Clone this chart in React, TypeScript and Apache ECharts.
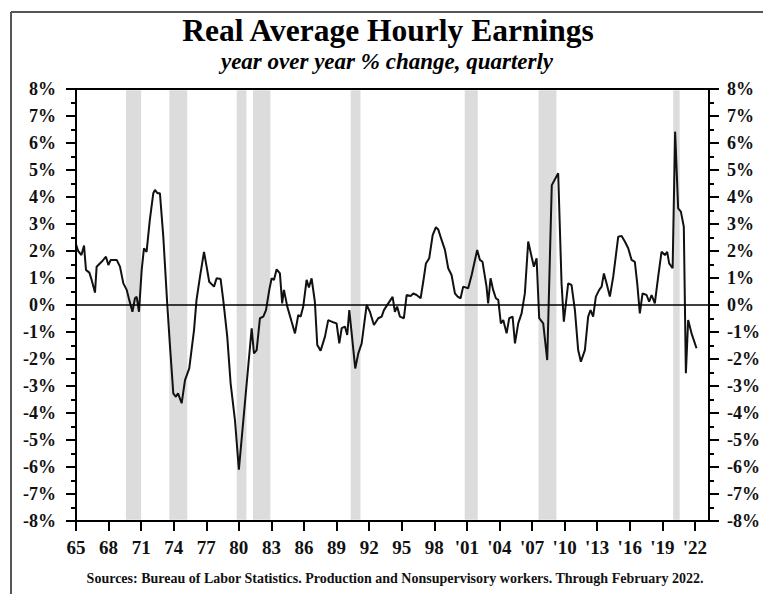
import React, { useEffect, useRef } from 'react';
import * as echarts from 'echarts';

const obsYears: number[] = [
  1965.0, 1965.2, 1965.5, 1965.74, 1965.92, 1966.23, 1966.44, 1966.75, 1966.9, 1967.36,
  1967.76, 1967.98, 1968.2, 1968.75, 1969.05, 1969.36, 1969.67, 1969.9, 1970.2, 1970.43,
  1970.59, 1970.8, 1971.05, 1971.26, 1971.5, 1971.8, 1972.12, 1972.27, 1972.5, 1972.73,
  1973.04, 1973.4, 1973.66, 1973.96, 1974.2, 1974.4, 1974.73, 1975.04, 1975.43, 1975.87,
  1976.1, 1976.42, 1976.79, 1977.03, 1977.27, 1977.71, 1977.95, 1978.32, 1978.56, 1978.93,
  1979.24, 1979.64, 1980.0, 1981.18, 1981.39, 1981.64, 1981.94, 1982.25, 1982.5, 1982.8,
  1983.02, 1983.23, 1983.48, 1983.78, 1983.99, 1984.15, 1984.46, 1984.86, 1985.17, 1985.47,
  1985.69, 1985.93, 1986.24, 1986.45, 1986.7, 1987.0, 1987.22, 1987.53, 1987.93, 1988.23,
  1988.76, 1989.0, 1989.25, 1989.47, 1989.77, 1989.98, 1990.17, 1990.39, 1990.72, 1991.0,
  1991.31, 1991.77, 1992.07, 1992.44, 1992.84, 1993.15, 1993.36, 1993.76, 1994.16, 1994.37,
  1994.58, 1994.83, 1995.2, 1995.45, 1995.82, 1996.06, 1996.37, 1996.74, 1996.98, 1997.23,
  1997.53, 1997.85, 1998.15, 1998.36, 1998.67, 1998.98, 1999.28, 1999.59, 1999.9, 2000.15,
  2000.42, 2000.66, 2001.12, 2001.44, 2001.95, 2002.2, 2002.44, 2002.81, 2002.96, 2003.18,
  2003.42, 2003.67, 2003.89, 2004.13, 2004.35, 2004.66, 2004.9, 2005.21, 2005.43, 2005.73,
  2006.04, 2006.34, 2006.65, 2006.96, 2007.17, 2007.42, 2007.66, 2008.03, 2008.4, 2008.82,
  2009.41, 2009.72, 2009.93, 2010.33, 2010.64, 2010.95, 2011.25, 2011.5, 2011.87, 2012.17,
  2012.39, 2012.63, 2012.88, 2013.19, 2013.41, 2013.62, 2013.87, 2014.17, 2014.48, 2014.94,
  2015.25, 2015.55, 2015.86, 2016.17, 2016.47, 2016.69, 2016.93, 2017.18, 2017.55, 2017.79,
  2018.01, 2018.31, 2018.62, 2018.93, 2019.24, 2019.45, 2019.63, 2019.95, 2020.18, 2020.46,
  2020.71, 2020.98, 2021.17, 2021.38, 2021.69, 2022.15,
];

const earningsYoY: number[] = [
  2.25, 2.0, 1.85, 2.2, 1.3, 1.2, 0.93, 0.46, 1.42, 1.6,
  1.79, 1.48, 1.67, 1.67, 1.42, 0.8, 0.56, 0.19, -0.25, 0.25,
  0.3, -0.25, 1.3, 2.1, 1.97, 3.15, 4.14, 4.26, 4.14, 4.14,
  2.53, 0.06, -1.54, -3.27, -3.4, -3.27, -3.64, -2.78, -2.35, -0.93,
  0.19, 1.05, 1.97, 1.42, 0.86, 0.68, 0.99, 0.96, 0.19, -1.17,
  -2.9, -4.26, -6.1, -0.86, -1.79, -1.67, -0.49, -0.43, -0.19, 0.56,
  0.99, 0.93, 1.32, 1.17, 0.06, 0.56, -0.06, -0.62, -1.05, -0.37,
  -0.43, -0.06, 0.93, 0.65, 0.99, 0.12, -1.48, -1.69, -1.17, -0.56,
  -0.65, -0.68, -1.42, -0.86, -0.8, -1.11, -0.19, -1.05, -2.35, -1.79,
  -1.42, 0.0, -0.25, -0.74, -0.49, -0.43, -0.19, 0.06, 0.3, -0.25,
  -0.06, -0.43, -0.49, 0.37, 0.33, 0.43, 0.37, 0.25, 0.86, 1.54,
  1.73, 2.59, 2.88, 2.8, 2.41, 2.04, 1.36, 1.11, 0.43, 0.31,
  0.25, 0.68, 0.62, 1.11, 2.04, 1.67, 1.6, 0.68, 0.06, 0.99,
  0.56, 0.25, 0.19, -0.68, -0.56, -1.05, -0.49, -0.43, -1.42, -0.68,
  -0.31, 0.43, 2.35, 1.79, 1.42, 1.73, -0.49, -0.68, -2.04, 4.44,
  4.88, 0.8, -0.62, 0.8, 0.74, -0.19, -1.67, -2.1, -1.67, -0.43,
  -0.19, -0.43, 0.31, 0.56, 0.68, 1.17, 0.8, 0.31, 1.05, 2.53,
  2.56, 2.35, 2.1, 1.67, 1.6, 0.8, -0.31, 0.43, 0.37, 0.12,
  0.37, 0.06, 1.05, 1.97, 1.85, 1.97, 1.54, 1.36, 6.42, 3.58,
  3.46, 2.9, -2.53, -0.56, -1.05, -1.6,
];

// Recession shading (decimal years)
const recessionStarts: number[] = [1969.6, 1973.6, 1979.8, 1981.3, 1990.3, 2000.8, 2007.6, 2020.0];
const recessionEnds: number[] = [1971.0, 1975.25, 1980.7, 1982.9, 1991.2, 2002.0, 2009.25, 2020.6];

// X axis ticks
const xTickYears: number[] = [
  1965, 1968, 1971, 1974, 1977, 1980, 1983, 1986, 1989, 1992,
  1995, 1998, 2001, 2004, 2007, 2010, 2013, 2016, 2019, 2022,
];
const xTickLabels: string[] = [
  '65', '68', '71', '74', '77', '80', '83', '86', '89', '92',
  '95', '98', "'01", "'04", "'07", "'10", "'13", "'16", "'19", "'22",
];

const TITLE = 'Real Average Hourly Earnings';
const SUBTITLE = 'year over year % change, quarterly';
const SOURCE = 'Sources: Bureau of Labor Statistics. Production and Nonsupervisory workers. Through February 2022.';

const FONT = '"Liberation Serif", "Times New Roman", Times, serif';

export default function App() {
  const ref = useRef<HTMLDivElement>(null);

  useEffect(() => {
    if (!ref.current) return;
    const chart = echarts.init(ref.current, null, { renderer: 'svg' });
    const seriesData = obsYears.map((y, i) => [y, earningsYoY[i]]);

    const yAxisBase = (pos: 'left' | 'right', margin: number) => ({
      type: 'value',
      position: pos,
      min: -8,
      max: 8,
      interval: 1,
      z: 5,
      axisLine: { show: true, onZero: false, lineStyle: { color: '#000', width: 2 } },
      axisTick: { show: true, inside: false, length: 10, lineStyle: { color: '#000', width: 2 } },
      minorTick: { show: true, splitNumber: 2, length: 5, lineStyle: { color: '#000', width: 2 } },
      splitLine: { show: false },
      minorSplitLine: { show: false },
      axisLabel: {
        formatter: '{value}%',
        margin,
        fontFamily: FONT,
        fontWeight: 'bold',
        fontSize: 18,
        color: '#111',
      },
    });

    const option: any = {
      animation: false,
      backgroundColor: '#fff',
      grid: { left: 76, right: 54, top: 89, bottom: 73, containLabel: false },
      xAxis: [
        {
          type: 'value',
          min: 1965,
          max: 2023.3,
          z: 5,
          splitLine: { show: false },
          axisLine: { show: true, onZero: false, lineStyle: { color: '#000', width: 2 } },
          axisTick: {
            show: true,
            customValues: xTickYears,
            length: 10,
            lineStyle: { color: '#000', width: 2 },
          },
          axisLabel: {
            customValues: xTickYears,
            formatter: (v: number) => {
              const i = xTickYears.indexOf(Math.round(v));
              return i >= 0 ? xTickLabels[i] : '';
            },
            margin: 17,
            fontFamily: FONT,
            fontWeight: 'bold',
            fontSize: 19,
            color: '#111',
          },
        },
        {
          type: 'value',
          position: 'top',
          min: 1965,
          max: 2023.3,
          z: 5,
          splitLine: { show: false },
          axisLine: { show: true, onZero: false, lineStyle: { color: '#000', width: 2 } },
          axisTick: { show: false },
          axisLabel: { show: false },
        },
      ],
      yAxis: [yAxisBase('left', 20), yAxisBase('right', 18)],
      graphic: [
        {
          type: 'line',
          shape: { x1: 11, y1: 12, x2: 11, y2: 594 },
          style: { stroke: '#555', lineWidth: 2 },
        },
        {
          type: 'line',
          shape: { x1: 11, y1: 12, x2: 763, y2: 12 },
          style: { stroke: '#555', lineWidth: 2 },
        },
        {
          type: 'text',
          x: 388,
          y: 30,
          style: {
            text: TITLE,
            fill: '#000',
            font: `bold 31.5px ${FONT}`,
            align: 'center',
            verticalAlign: 'middle',
            textAlign: 'center',
            textVerticalAlign: 'middle',
          },
        },
        {
          type: 'text',
          x: 387,
          y: 61,
          style: {
            text: SUBTITLE,
            fill: '#000',
            font: `italic bold 23px ${FONT}`,
            align: 'center',
            verticalAlign: 'middle',
            textAlign: 'center',
            textVerticalAlign: 'middle',
          },
        },
        {
          type: 'text',
          x: 395,
          y: 578,
          style: {
            text: SOURCE,
            fill: '#111',
            font: `bold 14px ${FONT}`,
            align: 'center',
            verticalAlign: 'middle',
            textAlign: 'center',
            textVerticalAlign: 'middle',
          },
        },
      ],
      series: [
        {
          type: 'line',
          xAxisIndex: 0,
          yAxisIndex: 0,
          data: seriesData,
          symbol: 'none',
          showSymbol: false,
          z: 3,
          lineStyle: { color: '#111', width: 2 },
          markArea: {
            silent: true,
            z: 1,
            itemStyle: { color: '#dcdcdc' },
            data: recessionStarts.map((s, i) => [
              { xAxis: s, yAxis: -7.95 },
              { xAxis: recessionEnds[i], yAxis: 7.95 },
            ]),
          },
          markLine: {
            silent: true,
            symbol: ['none', 'none'],
            label: { show: false },
            lineStyle: { color: '#000', width: 1.5, type: 'solid' },
            data: [{ yAxis: 0 }],
          },
        },
      ],
    };

    chart.setOption(option);
    return () => chart.dispose();
  }, []);

  return (
    <div
      ref={ref}
      style={{ position: 'absolute', left: 0, top: 0, width: 763, height: 594, background: '#fff' }}
    />
  );
}
